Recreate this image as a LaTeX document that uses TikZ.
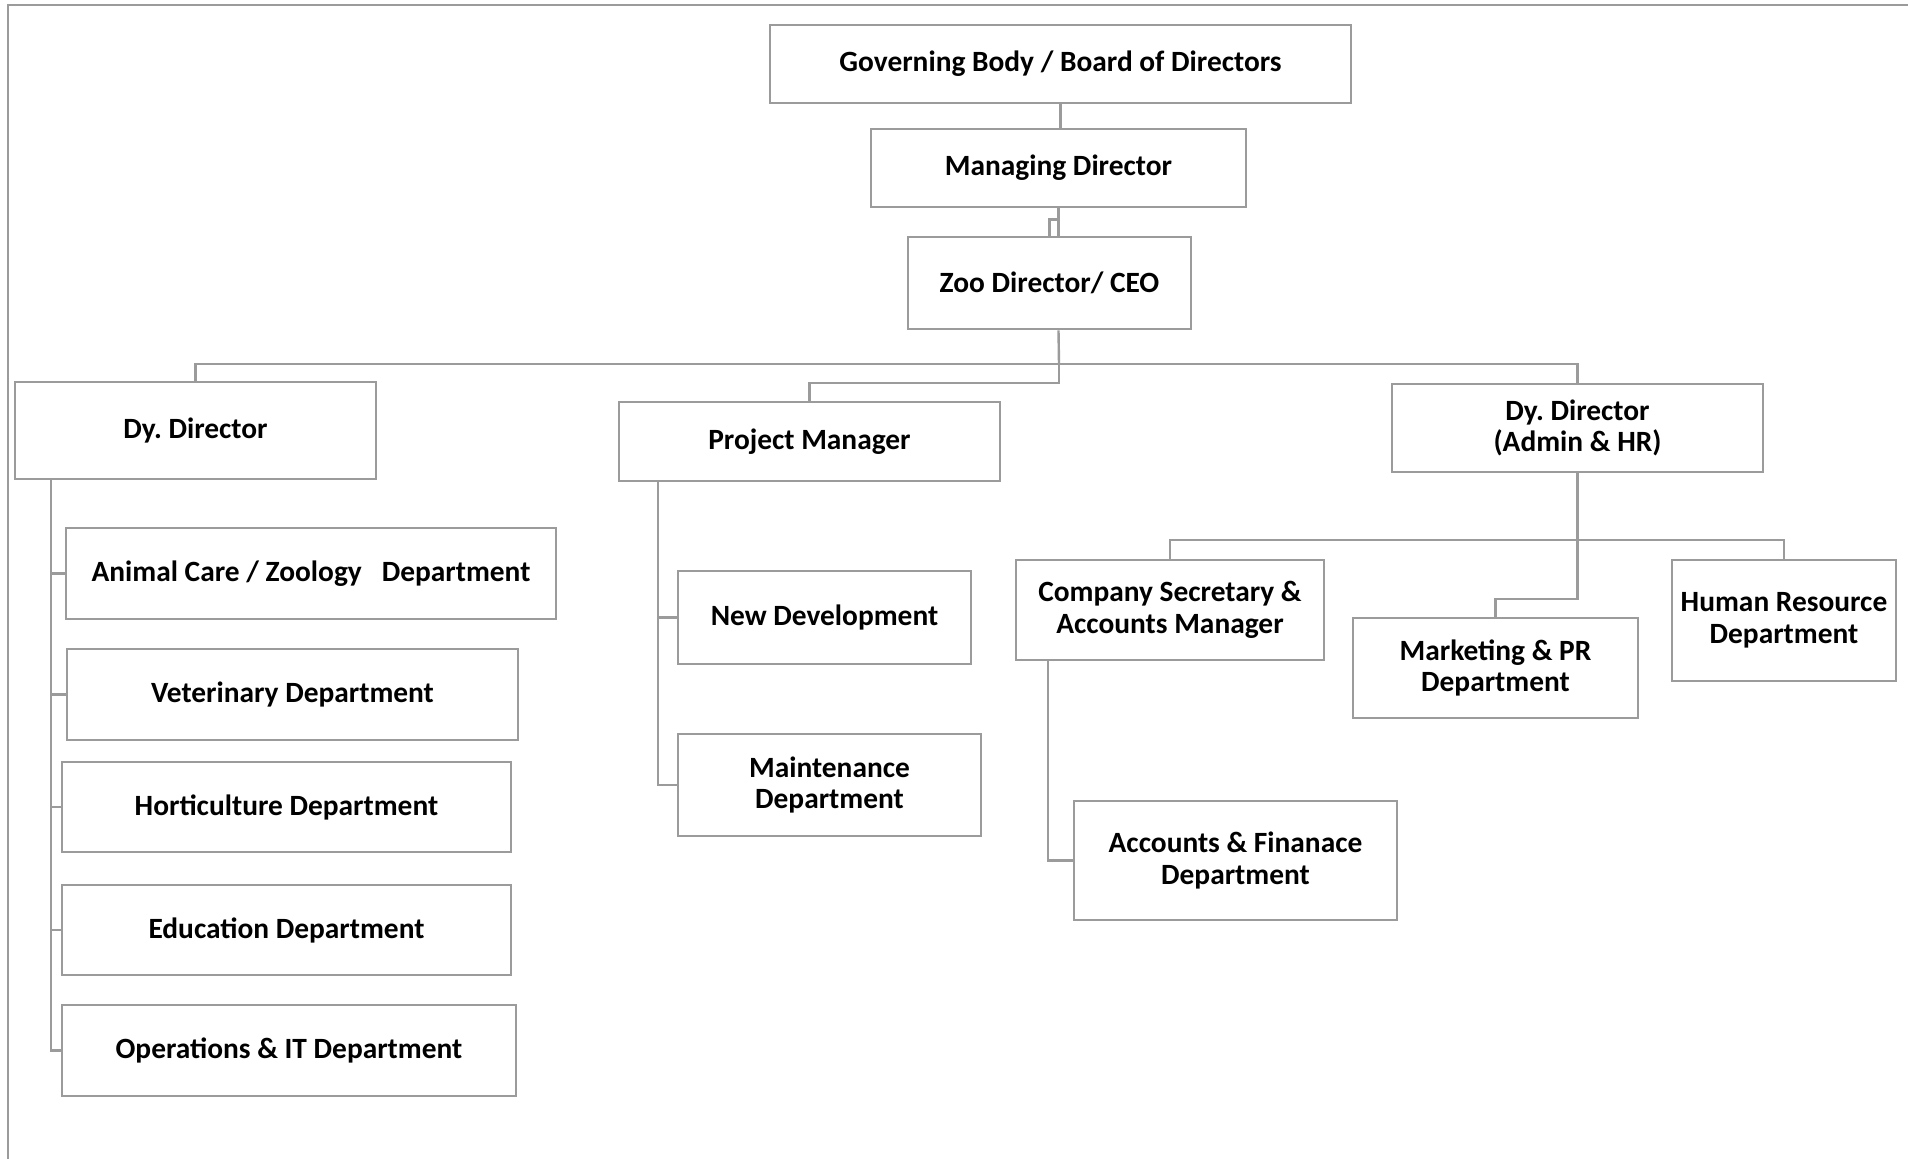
\documentclass[tikz,border=0pt]{standalone}
\usepackage{fontspec}
\setmainfont{Carlito}
\frenchspacing
\definecolor{lg}{RGB}{155,155,155}
\begin{document}
\begin{tikzpicture}[x=0.5pt,y=-0.5pt,
  box/.style={draw=lg, line width=1.4pt, fill=white, align=center, inner sep=2pt,
    font=\bfseries\fontsize{14.7}{15.8}\selectfont},
  conn/.style={draw=lg, line width=1.2pt},
  frame/.style={draw=lg, line width=1pt}]
\useasboundingbox (0,0) rectangle (1908,1159);
\draw[frame] (1908,5) -- (8,5) -- (8,1159);

% boxes
\node[box, minimum width=290.5pt, minimum height=39pt] (gov) at (1060.5,64) {Governing Body / Board of Directors};
\node[box, minimum width=187.5pt, minimum height=39pt] (man) at (1058.5,168) {Managing Director};
\node[box, minimum width=141.5pt, minimum height=46pt] (zoo) at (1049.5,283) {Zoo Director/ CEO};
\node[box, minimum width=180.5pt, minimum height=48.5pt] (dd1) at (195.5,430.5) {Dy. Director};
\node[box, minimum width=190.5pt, minimum height=39.5pt] (pm) at (809.5,441.5) {Project Manager};
\node[box, minimum width=185.5pt, minimum height=44pt] (dd2) at (1577.5,428) {Dy. Director\\(Admin \& HR)};
\node[box, minimum width=154pt, minimum height=50pt] (cs) at (1170,610) {Company Secretary \&\\Accounts Manager};
\node[box, minimum width=112pt, minimum height=60.5pt] (hr) at (1784,620.5) {Human Resource\\Department};
\node[box, minimum width=142.5pt, minimum height=50pt] (mk) at (1495.5,668) {Marketing \& PR\\Department};
\node[box, minimum width=161.5pt, minimum height=59.5pt] (af) at (1235.5,860.5) {Accounts \& Finanace\\Department};
\node[box, minimum width=245pt, minimum height=45.5pt] (ac) at (311,573.5) {Animal Care / Zoology\ \ \ Department};
\node[box, minimum width=225.5pt, minimum height=45.5pt] (vet) at (292.5,694.5) {Veterinary Department};
\node[box, minimum width=224.5pt, minimum height=45pt] (hor) at (286.5,807) {Horticulture Department};
\node[box, minimum width=224.5pt, minimum height=45pt] (edu) at (286.5,930) {Education Department};
\node[box, minimum width=227pt, minimum height=45.5pt] (ops) at (289,1050.5) {Operations \& IT Department};
\node[box, minimum width=146.5pt, minimum height=46.5pt] (nd) at (824.5,617.5) {New Development};
\node[box, minimum width=151.5pt, minimum height=51pt] (mt) at (829.5,785) {Maintenance\\Department};

% connector points
\coordinate (bus) at (1059,364);
\coordinate (bus2) at (1577.5,540);
\coordinate (s1) at (51,479);
\coordinate (s2) at (658,481);
\coordinate (csd) at (1048,660);

% connectors
\draw[conn] (gov.south) -- (gov.south |- man.north);
\draw[conn] (man.south) -- (man.south |- zoo.north);
\draw[conn] (man.south) ++(0,11) -| (zoo.north);
\draw[conn] (zoo.south -| man.south) -- (bus);
\draw[conn] (dd1.north) -- (dd1.north |- bus) -- (dd2.north |- bus) -- (dd2.north);
\draw[conn] (bus) -- ++(0,19) -| (pm.north);
\draw[conn] (dd2.south) -- (bus2) -- ++(0,59) -| (mk.north);
\draw[conn] (cs.north) -- (cs.north |- bus2) -- (hr.north |- bus2) -- (hr.north);
\draw[conn] (csd) |- (af.west);
\draw[conn] (s1) |- (ops.west);
\draw[conn] (s1 |- ac.west) -- (ac.west);
\draw[conn] (s1 |- vet.west) -- (vet.west);
\draw[conn] (s1 |- hor.west) -- (hor.west);
\draw[conn] (s1 |- edu.west) -- (edu.west);
\draw[conn] (s2) |- (mt.west);
\draw[conn] (s2 |- nd.west) -- (nd.west);
\end{tikzpicture}
\end{document}
